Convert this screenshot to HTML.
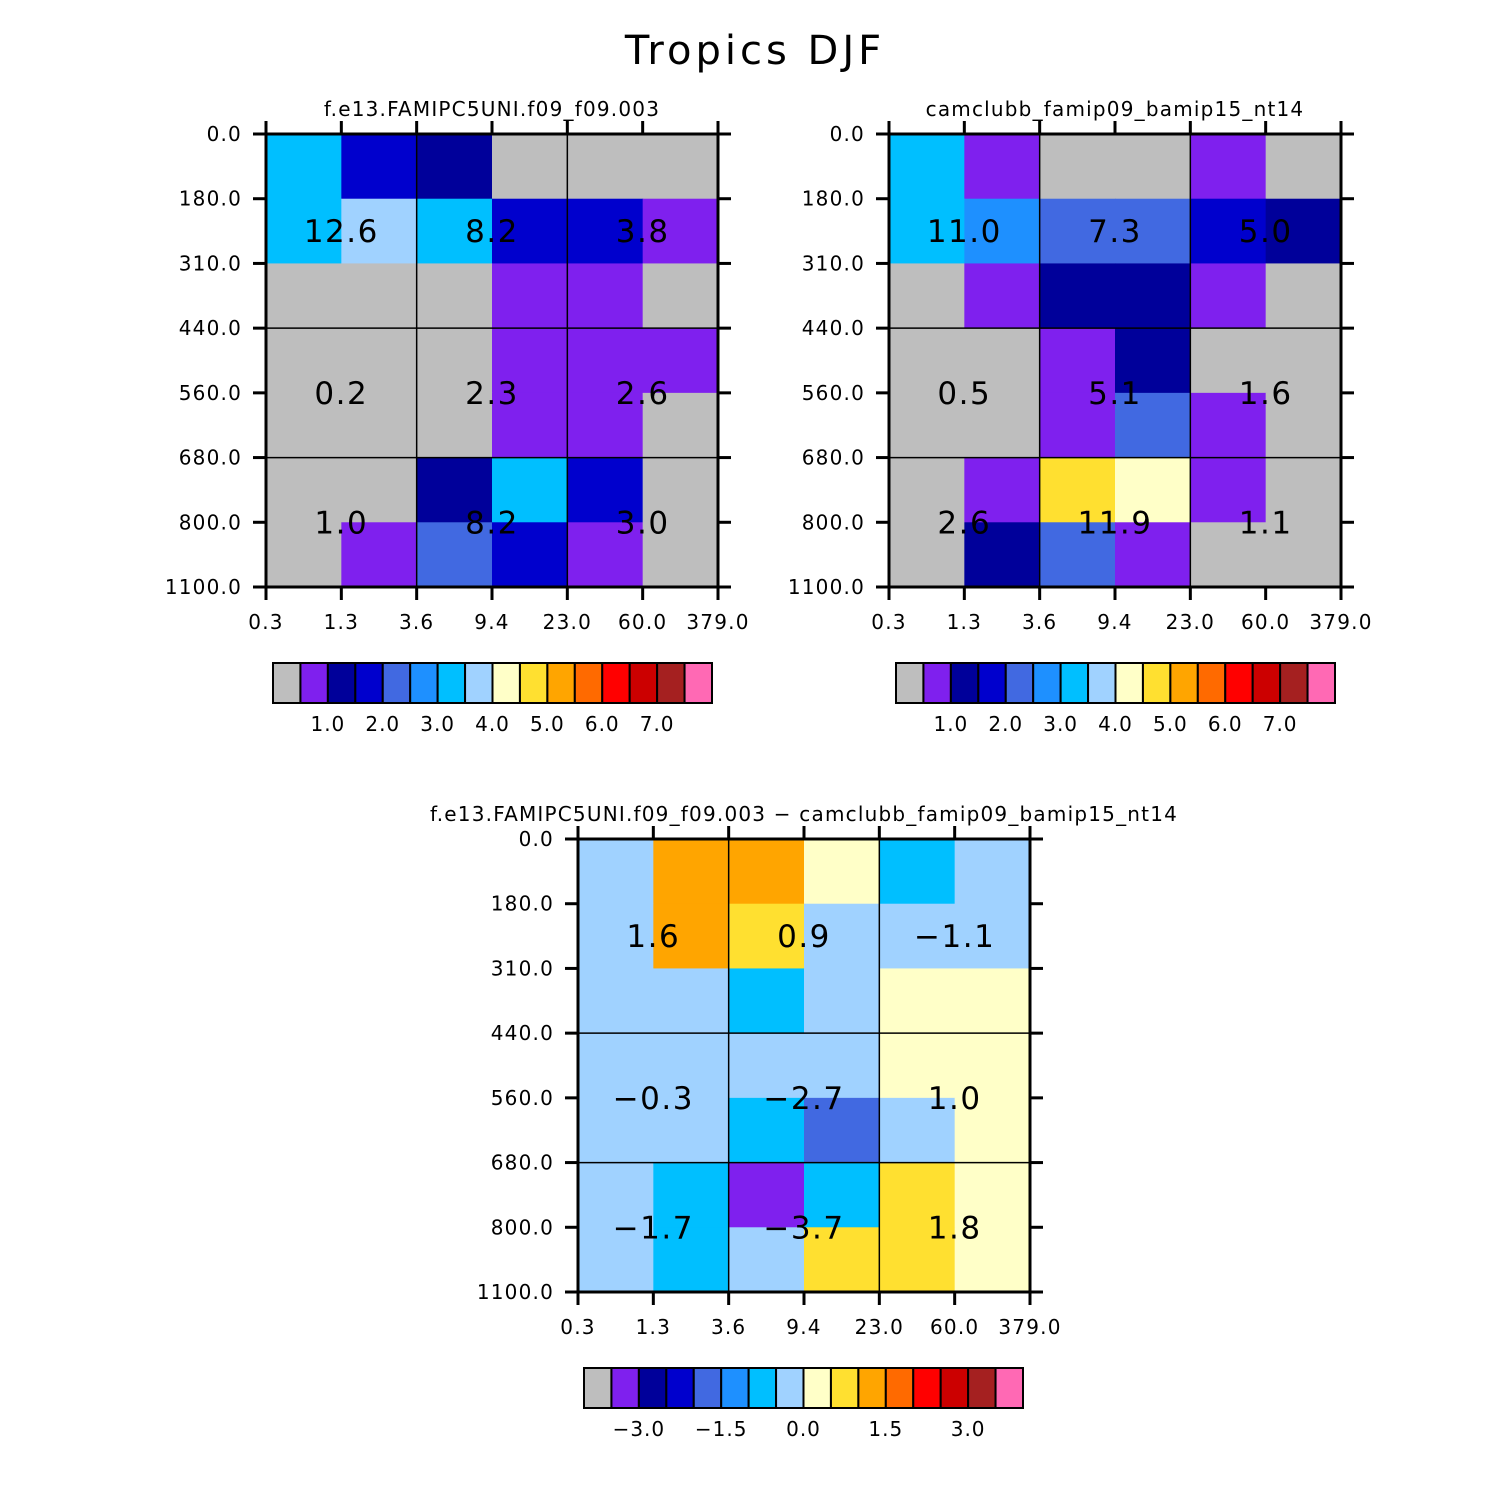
<!DOCTYPE html>
<html><head><meta charset="utf-8">
<style>
html,body{margin:0;padding:0;background:#fff;}
svg{display:block;}
text{font-family:"DejaVu Sans","Liberation Sans",sans-serif;fill:#000;}
</style></head>
<body>
<svg id="chart" width="1510" height="1510" viewBox="0 0 1510 1510" xmlns="http://www.w3.org/2000/svg">
<text x="755" y="64" font-size="40" text-anchor="middle" letter-spacing="4">Tropics DJF</text>
</svg>
<script>
const palette = ["#bebebe","#7f20ee","#00009a","#0000cd","#4169e1","#1e90ff","#00bfff","#a0d2ff","#ffffc8","#ffe030","#ffa500","#ff6a00","#ff0000","#cc0000","#a52020","#ff69b4"];
const xTicks = ["0.3","1.3","3.6","9.4","23.0","60.0","379.0"];
const yTicks = ["0.0","180.0","310.0","440.0","560.0","680.0","800.0","1100.0"];
const cells1 = [[6,3,2,0,0,0],[6,7,6,3,3,1],[0,0,0,1,1,0],[0,0,0,1,1,1],[0,0,0,1,1,0],[0,0,2,6,3,0],[0,1,4,3,1,0]];
const cells2 = [[6,1,0,0,1,0],[6,5,4,4,3,2],[0,1,2,2,1,0],[0,0,1,2,0,0],[0,0,1,4,1,0],[0,1,9,8,1,0],[0,2,4,1,0,0]];
const cells3 = [[7,10,10,8,6,7],[7,10,9,7,7,7],[7,7,6,7,8,8],[7,7,7,7,8,8],[7,7,6,4,7,8],[7,6,1,6,9,8],[7,6,7,9,9,8]];
const values1 = [["12.6","8.2","3.8"],["0.2","2.3","2.6"],["1.0","8.2","3.0"]];
const values2 = [["11.0","7.3","5.0"],["0.5","5.1","1.6"],["2.6","11.9","1.1"]];
const values3 = [["1.6","0.9","\u22121.1"],["\u22120.3","\u22122.7","1.0"],["\u22121.7","\u22123.7","1.8"]];
const cbLabels12 = ["1.0","2.0","3.0","4.0","5.0","6.0","7.0"];
const cbLabels3 = ["\u22123.0","\u22121.5","0.0","1.5","3.0"];
const cbIdx12 = [2,4,6,8,10,12,14];
const cbIdx3 = [2,5,8,11,14];

const NS="http://www.w3.org/2000/svg";
const svg=document.getElementById('chart');
function mk(tag,attrs,parent){const e=document.createElementNS(NS,tag);for(const k in attrs)e.setAttribute(k,attrs[k]);(parent||svg).appendChild(e);return e;}

function panel(x0,y0,cells,values,title,tag){
  const W=452,H=453,nc=6,nr=7;
  const g=mk('g',{});
  
  
  const xs=i=>x0+i*W/nc, ys=j=>y0+j*H/nr;
  cells.forEach((row,j)=>row.forEach((v,i)=>{
    const r=mk('rect',{x:xs(i),y:ys(j),width:W/nc+0.5,height:H/nr+0.5,fill:palette[v]},g);
    
    
  }));
  [2,4].forEach(i=>mk('line',{x1:xs(i),x2:xs(i),y1:y0,y2:y0+H,stroke:'#000','stroke-width':1.5},g));
  [3,5].forEach(j=>mk('line',{x1:x0,x2:x0+W,y1:ys(j),y2:ys(j),stroke:'#000','stroke-width':1.5},g));
  const vy=[1.5,4,6];
  values.forEach((row,j)=>row.forEach((t,i)=>{
    const e=mk('text',{x:xs(1+2*i),y:ys(vy[j])+11,'font-size':31,'text-anchor':'middle','letter-spacing':1.5},g);
    e.textContent=t;
    
    
  }));
  mk('rect',{x:x0,y:y0,width:W,height:H,fill:'none',stroke:'#000','stroke-width':3},g);
  xTicks.forEach((t,i)=>{
    mk('line',{x1:xs(i),x2:xs(i),y1:y0+H,y2:y0+H+13,stroke:'#000','stroke-width':3},g);
    mk('line',{x1:xs(i),x2:xs(i),y1:y0,y2:y0-13,stroke:'#000','stroke-width':3},g);
    const e=mk('text',{x:xs(i),y:y0+H+42,'font-size':20,'text-anchor':'middle','letter-spacing':1.2},g);
    e.textContent=t;
    
    
  });
  yTicks.forEach((t,j)=>{
    mk('line',{x1:x0-13,x2:x0,y1:ys(j),y2:ys(j),stroke:'#000','stroke-width':3},g);
    mk('line',{x1:x0+W,x2:x0+W+13,y1:ys(j),y2:ys(j),stroke:'#000','stroke-width':3},g);
    const e=mk('text',{x:x0-24,y:ys(j)+7,'font-size':20,'text-anchor':'end','letter-spacing':1.2},g);
    e.textContent=t;
    
    
  });
  const tt=mk('text',{x:x0+W/2,y:y0-18,'font-size':20,'text-anchor':'middle','letter-spacing':1.2},g);
  tt.textContent=title;
  
  
}

function colorbar(x0,y0,labels,idx,tag){
  const w=439/16,h=40;
  const g=mk('g',{});
  
  
  palette.forEach((c,i)=>{
    const r=mk('rect',{x:x0+i*w,y:y0,width:w,height:h,fill:c,stroke:'#000','stroke-width':2},g);
    
    
  });
  labels.forEach((t,k)=>{
    const e=mk('text',{x:x0+idx[k]*w,y:y0+h+28,'font-size':20,'text-anchor':'middle','letter-spacing':1},g);
    e.textContent=t;
    
    
  });
}

panel(266,134,cells1,values1,"f.e13.FAMIPC5UNI.f09_f09.003","model1");
panel(889,134,cells2,values2,"camclubb_famip09_bamip15_nt14","model2");
panel(578,839,cells3,values3,"f.e13.FAMIPC5UNI.f09_f09.003 \u2212 camclubb_famip09_bamip15_nt14","diff");
colorbar(273,663,cbLabels12,cbIdx12,"model1");
colorbar(896,663,cbLabels12,cbIdx12,"model2");
colorbar(584,1368,cbLabels3,cbIdx3,"diff");
</script>
</body></html>
